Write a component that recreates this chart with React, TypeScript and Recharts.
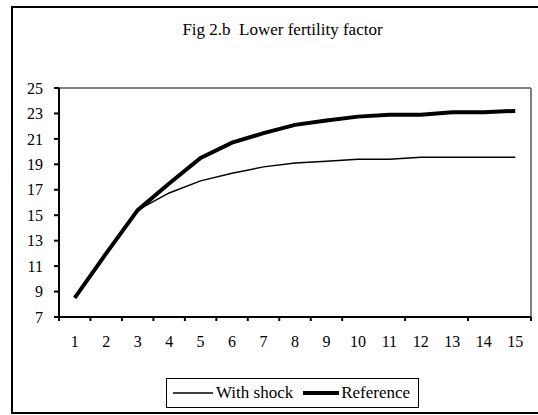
import React from "react";
import { LineChart, Line, XAxis, YAxis, ReferenceLine, Legend } from "recharts";

const periods = [1, 2, 3, 4, 5, 6, 7, 8, 9, 10, 11, 12, 13, 14, 15];
const withShock = [8.5, 12.0, 15.4, 16.75, 17.7, 18.3, 18.8, 19.1, 19.25, 19.4, 19.4, 19.55, 19.55, 19.55, 19.55];
const reference = [8.5, 12.0, 15.4, 17.5, 19.5, 20.7, 21.45, 22.1, 22.45, 22.75, 22.9, 22.9, 23.1, 23.1, 23.2];
const yTicks = [7, 9, 11, 13, 15, 17, 19, 21, 23, 25];
const boundaryTicks = [0.5, 1.5, 2.5, 3.5, 4.5, 5.5, 6.5, 7.5, 8.5, 9.5, 10.5, 11.5, 12.5, 13.5, 14.5, 15.5];

const data = periods.map((p, i) => ({ period: p, withShock: withShock[i], reference: reference[i] }));

const FONT = "Liberation Serif";

const LegendBox = () => (
  <div
    style={{
      width: 251,
      height: 28,
      border: "1.5px solid #000",
      background: "#fff",
      display: "flex",
      alignItems: "center",
      fontFamily: FONT,
      fontSize: 17,
      color: "#000",
      boxSizing: "content-box",
    }}
  >
    <svg width={44} height={10} style={{ marginLeft: 4 }}>
      <line x1={2} y1={5} x2={42} y2={5} stroke="#000" strokeWidth={1.5} />
    </svg>
    <span style={{ marginLeft: 1 }}>With shock</span>
    <svg width={40} height={10} style={{ marginLeft: 8 }}>
      <line x1={2} y1={5} x2={38} y2={5} stroke="#000" strokeWidth={4} />
    </svg>
    <span>Reference</span>
  </div>
);

export default function App() {
  return (
    <div style={{ position: "absolute", left: 0, top: 0, width: 538, height: 415, overflow: "hidden", background: "#fff" }}>
      <div
        style={{
          position: "absolute",
          left: 11,
          top: 6,
          width: 560,
          height: 404,
          border: "2px solid #000",
        }}
      />
      <div
        style={{
          position: "absolute",
          left: 30,
          top: 20,
          width: 505,
          textAlign: "center",
          fontFamily: FONT,
          fontSize: 17,
          lineHeight: "20px",
          whiteSpace: "pre",
        }}
      >
        {"Fig 2.b  Lower fertility factor"}
      </div>
      <div style={{ position: "absolute", left: 0, top: 0 }}>
        <LineChart width={538} height={415} data={data} margin={{ top: 88, right: 7, left: 13, bottom: 58 }}>
          <XAxis
            xAxisId="grid"
            dataKey="period"
            type="number"
            domain={[0.5, 15.5]}
            ticks={boundaryTicks}
            height={1}
            stroke="#000"
            strokeWidth={2}
            tickSize={4}
            tick={() => <g />}
            allowDataOverflow
          />
          <XAxis
            xAxisId="lab"
            dataKey="period"
            type="number"
            domain={[0.5, 15.5]}
            ticks={periods}
            height={39}
            axisLine={false}
            tickLine={false}
            tickSize={0}
            tickMargin={18}
            tick={{ fill: "#000", fontSize: 16, fontFamily: FONT }}
            allowDataOverflow
          />
          <YAxis
            type="number"
            domain={[7, 25]}
            ticks={yTicks}
            width={46}
            stroke="#000"
            strokeWidth={2}
            tickSize={5}
            tickMargin={11}
            tick={{ fill: "#000", fontSize: 16, fontFamily: FONT }}
            allowDataOverflow
          />
          <ReferenceLine xAxisId="lab" y={25} stroke="#808080" strokeWidth={2} />
          <ReferenceLine xAxisId="lab" x={15.5} stroke="#808080" strokeWidth={2} />
          <Line
            xAxisId="lab"
            type="linear"
            dataKey="withShock"
            name="With shock"
            stroke="#000"
            strokeWidth={1.5}
            dot={false}
            isAnimationActive={false}
          />
          <Line
            xAxisId="lab"
            type="linear"
            dataKey="reference"
            name="Reference"
            stroke="#000"
            strokeWidth={4}
            dot={false}
            isAnimationActive={false}
          />
          <Legend
            layout="horizontal"
            verticalAlign="middle"
            align="center"
            wrapperStyle={{ left: 166, top: 378, width: "auto" }}
            content={() => <LegendBox />}
          />
        </LineChart>
      </div>
    </div>
  );
}
